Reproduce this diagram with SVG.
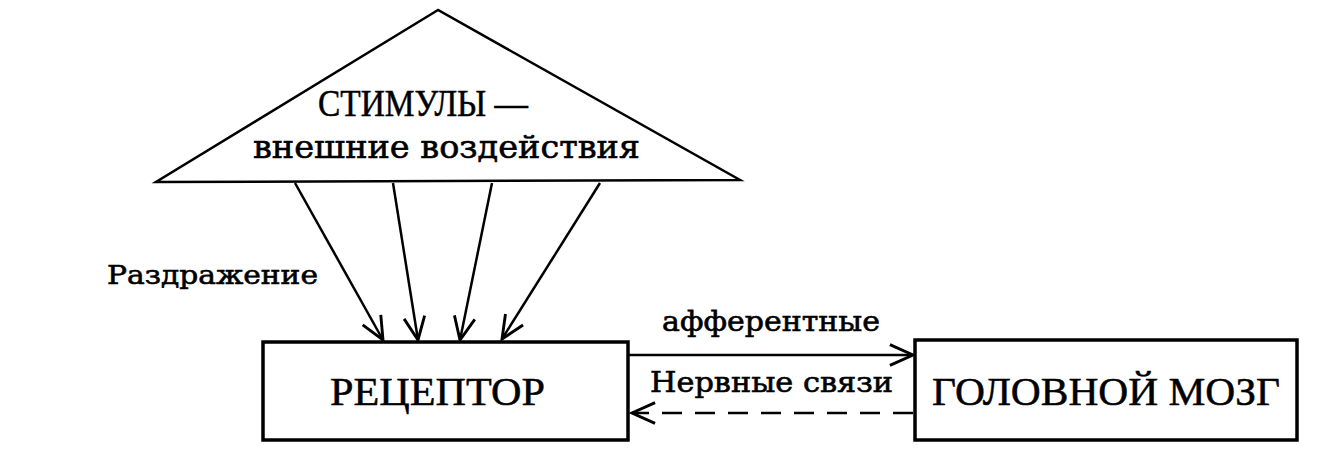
<svg xmlns="http://www.w3.org/2000/svg" width="1338" height="449" viewBox="0 0 1338 449">
<defs>
<marker id="arr" markerUnits="userSpaceOnUse" markerWidth="30" markerHeight="30" viewBox="-22 -12 26 24" refX="0" refY="0" orient="auto">
<path d="M-20,-9 L0,0 L-20,9" fill="none" stroke="#000" stroke-width="2.5"/>
</marker>
</defs>
<style>
.line{stroke:#000;stroke-width:2.5;fill:none}
.box{stroke:#000;stroke-width:3.5;fill:#fff}
.caps{font-family:"Liberation Serif","DejaVu Serif",serif;fill:#000;stroke:#000;stroke-width:0.5}
.low{font-family:"DejaVu Serif","Liberation Serif",serif;fill:#000;stroke:#000;stroke-width:0.6}
</style>
<rect width="1338" height="449" fill="#fff"/>
<g id="stimuli">
<polygon points="438,10 156,182 740,180" fill="#fff" stroke="#000" stroke-width="2.5"/>
<text class="caps" x="318" y="116" font-size="37" textLength="210" lengthAdjust="spacingAndGlyphs">СТИМУЛЫ —</text>
<text class="low" x="253" y="158" font-size="32" textLength="387" lengthAdjust="spacingAndGlyphs">внешние  воздействия</text>
</g>
<g id="connectors">
<line class="line" x1="295" y1="183" x2="383" y2="340" marker-end="url(#arr)"/>
<line class="line" x1="393" y1="183" x2="418" y2="340" marker-end="url(#arr)"/>
<line class="line" x1="492" y1="183" x2="460" y2="340" marker-end="url(#arr)"/>
<line class="line" x1="600" y1="183" x2="502" y2="339" marker-end="url(#arr)"/>
<line class="line" x1="628" y1="355" x2="913" y2="355" marker-end="url(#arr)"/>
<line class="line" x1="913" y1="413" x2="632" y2="413" stroke-dasharray="20,13" marker-end="url(#arr)"/>
<text class="low" x="107" y="284" font-size="26" textLength="211" lengthAdjust="spacingAndGlyphs">Раздражение</text>
<text class="low" x="662" y="331" font-size="27" textLength="218" lengthAdjust="spacingAndGlyphs">афферентные</text>
<text class="low" x="650" y="392" font-size="27" textLength="243" lengthAdjust="spacingAndGlyphs">Нервные  связи</text>
</g>
<g id="receptor">
<rect class="box" x="263" y="342" width="365" height="98"/>
<text class="caps" x="330" y="405" font-size="40" textLength="215" lengthAdjust="spacingAndGlyphs">РЕЦЕПТОР</text>
</g>
<g id="brain">
<rect class="box" x="915" y="340" width="382" height="100"/>
<text class="caps" x="932" y="405" font-size="40" textLength="348" lengthAdjust="spacingAndGlyphs">ГОЛОВНОЙ МОЗГ</text>
</g>
</svg>
